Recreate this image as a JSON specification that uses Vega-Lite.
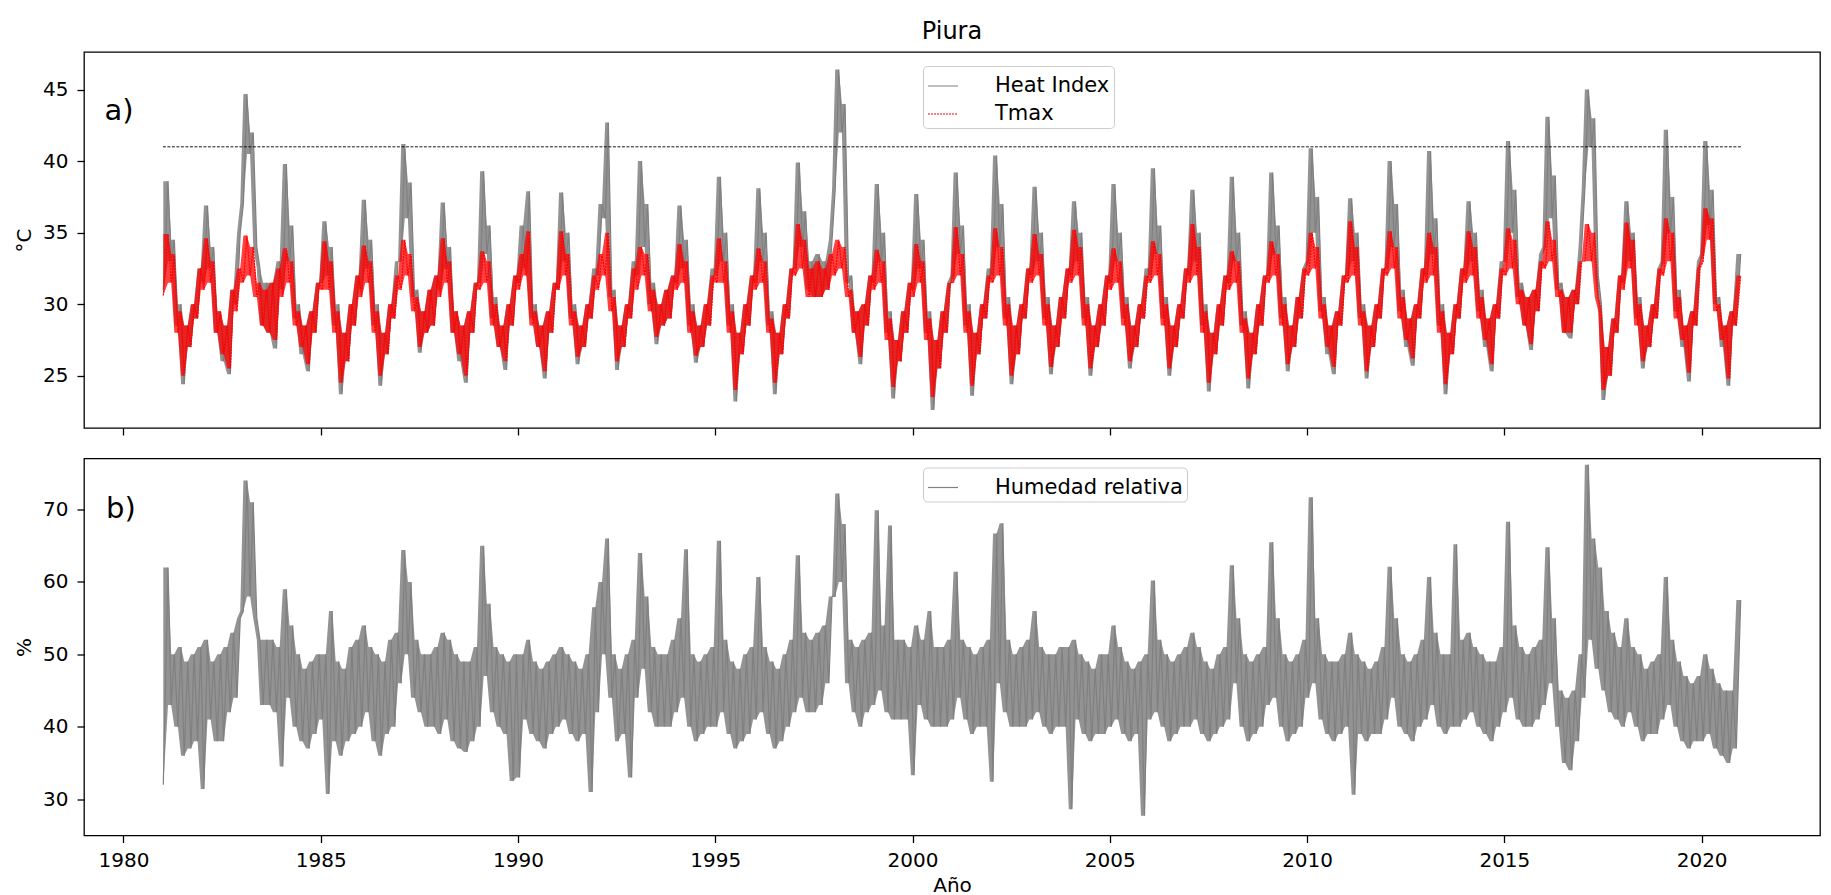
{
"$schema":"https://vega.github.io/schema/vega-lite/v6.json",
"background":"white",
"padding":{"left":13,"top":19,"right":8,"bottom":0},
"config":{"font":"DejaVu Sans","view":{"stroke":"black","strokeWidth":1.3},
"axis":{"domain":false,"grid":false,"tickColor":"black","tickWidth":1.3,"tickSize":7,"labelFontSize":20,"labelColor":"black","labelFont":"DejaVu Sans","titleFont":"DejaVu Sans","titleFontSize":20,"titleFontWeight":"normal","titleColor":"black","labelPadding":9,"titlePadding":8}},
"resolve":{"scale":{"x":"independent","y":"independent","color":"independent","strokeDash":"independent"},"legend":{"color":"independent","strokeDash":"independent"}},
"spacing":20.5,
"datasets":{"th":[{"x":1981,"x2":2021,"y":41}],"d":[
{"x":1981.01,"h":31,"t":30.6,"r":32},{"x":1981.13,"h":38.6,"t":34.9,"r":62},{"x":1981.21,"h":33,"t":31.5,"r":43},{"x":1981.29,"h":34.5,"t":33.5,"r":50},{"x":1981.38,"h":28.5,"t":28,"r":40},{"x":1981.46,"h":30,"t":29.5,"r":51},{"x":1981.54,"h":24.4,"t":25,"r":36},{"x":1981.63,"h":28.5,"t":28.5,"r":49},{"x":1981.71,"h":27,"t":27,"r":37},{"x":1981.79,"h":30,"t":30,"r":50},{"x":1981.88,"h":29,"t":29,"r":38},{"x":1981.96,"h":32.5,"t":32.5,"r":51},
{"x":1982.04,"h":31.5,"t":31,"r":31.4},{"x":1982.13,"h":36.9,"t":34.6,"r":52},{"x":1982.21,"h":32.5,"t":31.5,"r":41},{"x":1982.29,"h":34,"t":33,"r":49},{"x":1982.38,"h":28,"t":28,"r":38},{"x":1982.46,"h":29.5,"t":29.5,"r":50},{"x":1982.54,"h":26,"t":26.5,"r":38},{"x":1982.63,"h":28.5,"t":28.5,"r":51},{"x":1982.71,"h":25.1,"t":25.5,"r":42},{"x":1982.79,"h":31,"t":31,"r":53},{"x":1982.88,"h":30,"t":29.5,"r":44},{"x":1982.96,"h":35,"t":32.5,"r":55},
{"x":1983.04,"h":37,"t":31.5,"r":56},{"x":1983.13,"h":44.7,"t":34.8,"r":74},{"x":1983.21,"h":40.5,"t":32,"r":58},{"x":1983.29,"h":42,"t":34,"r":71},{"x":1983.38,"h":34,"t":30.5,"r":55},{"x":1983.46,"h":32.5,"t":31.5,"r":52},{"x":1983.54,"h":28.5,"t":28.5,"r":43},{"x":1983.63,"h":31.5,"t":31,"r":52},{"x":1983.71,"h":28,"t":28,"r":43},{"x":1983.79,"h":31.5,"t":31.5,"r":52},{"x":1983.88,"h":26.9,"t":27.5,"r":42},{"x":1983.96,"h":33,"t":32.5,"r":51},
{"x":1984.04,"h":31,"t":30.5,"r":34.5},{"x":1984.13,"h":39.8,"t":33.9,"r":59},{"x":1984.21,"h":33,"t":31.5,"r":44},{"x":1984.29,"h":35.5,"t":33,"r":54},{"x":1984.38,"h":29,"t":28.5,"r":40},{"x":1984.46,"h":30,"t":29.5,"r":50},{"x":1984.54,"h":26.5,"t":27,"r":38},{"x":1984.63,"h":28.5,"t":28.5,"r":48},{"x":1984.71,"h":25.3,"t":25.8,"r":37},{"x":1984.79,"h":29.5,"t":29.5,"r":49},{"x":1984.88,"h":28,"t":28,"r":39},{"x":1984.96,"h":31.5,"t":31.5,"r":50},
{"x":1985.04,"h":31.5,"t":31,"r":41},{"x":1985.13,"h":35.8,"t":34.4,"r":50},{"x":1985.21,"h":32,"t":31,"r":30.7},{"x":1985.29,"h":34,"t":33,"r":56},{"x":1985.38,"h":28.5,"t":28,"r":38},{"x":1985.46,"h":30,"t":29.5,"r":49},{"x":1985.54,"h":23.7,"t":24.5,"r":36},{"x":1985.63,"h":28,"t":28,"r":48},{"x":1985.71,"h":26,"t":26,"r":38},{"x":1985.79,"h":30,"t":30,"r":51},{"x":1985.88,"h":28.5,"t":28.5,"r":39},{"x":1985.96,"h":32,"t":32,"r":52},
{"x":1986.04,"h":31,"t":30.5,"r":40},{"x":1986.13,"h":37.3,"t":34.1,"r":54},{"x":1986.21,"h":32.5,"t":31.5,"r":42},{"x":1986.29,"h":34.5,"t":33,"r":51},{"x":1986.38,"h":28.5,"t":28,"r":38},{"x":1986.46,"h":30,"t":29.5,"r":50},{"x":1986.54,"h":24.3,"t":25,"r":36},{"x":1986.63,"h":28,"t":28,"r":49},{"x":1986.71,"h":26.5,"t":26.5,"r":39},{"x":1986.79,"h":30,"t":30,"r":52},{"x":1986.88,"h":29,"t":29,"r":40},{"x":1986.96,"h":33,"t":32,"r":53},
{"x":1987.04,"h":33,"t":31,"r":46},{"x":1987.13,"h":41.2,"t":34.5,"r":64.4},{"x":1987.21,"h":36,"t":32,"r":50},{"x":1987.29,"h":38.5,"t":33.5,"r":60},{"x":1987.38,"h":30.5,"t":29.5,"r":44},{"x":1987.46,"h":31,"t":30.5,"r":52},{"x":1987.54,"h":26.6,"t":27,"r":42},{"x":1987.63,"h":29.5,"t":29.5,"r":50},{"x":1987.71,"h":28,"t":28,"r":40},{"x":1987.79,"h":31,"t":31,"r":50},{"x":1987.88,"h":28.5,"t":28.5,"r":40},{"x":1987.96,"h":32,"t":32,"r":51},
{"x":1988.04,"h":31,"t":30.5,"r":39},{"x":1988.13,"h":37.1,"t":34.6,"r":53},{"x":1988.21,"h":32.5,"t":31.5,"r":41},{"x":1988.29,"h":34,"t":33,"r":52},{"x":1988.38,"h":28,"t":28,"r":38},{"x":1988.46,"h":29.5,"t":29.5,"r":50},{"x":1988.54,"h":26,"t":26.5,"r":37},{"x":1988.63,"h":28.5,"t":28.5,"r":49},{"x":1988.71,"h":24.5,"t":25,"r":36.5},{"x":1988.79,"h":29.5,"t":29.5,"r":49},{"x":1988.88,"h":28,"t":28,"r":38},{"x":1988.96,"h":31.5,"t":31.5,"r":51},
{"x":1989.04,"h":31.5,"t":31,"r":40},{"x":1989.13,"h":39.3,"t":33.7,"r":65},{"x":1989.21,"h":33.5,"t":31.5,"r":47},{"x":1989.29,"h":35.5,"t":33,"r":57},{"x":1989.38,"h":29,"t":28.5,"r":42},{"x":1989.46,"h":30.5,"t":30,"r":51},{"x":1989.54,"h":27,"t":27,"r":40},{"x":1989.63,"h":28.5,"t":28.5,"r":50},{"x":1989.71,"h":25.4,"t":26,"r":39},{"x":1989.79,"h":30,"t":30,"r":49},{"x":1989.88,"h":28.5,"t":28.5,"r":32.5},{"x":1989.96,"h":32,"t":32,"r":50},
{"x":1990.04,"h":31.5,"t":31,"r":33},{"x":1990.13,"h":35.5,"t":33.5,"r":50},{"x":1990.21,"h":32.5,"t":32,"r":41},{"x":1990.29,"h":37.9,"t":35.1,"r":52},{"x":1990.38,"h":29,"t":28.5,"r":39},{"x":1990.46,"h":30,"t":29.5,"r":49},{"x":1990.54,"h":27,"t":27,"r":38},{"x":1990.63,"h":28.5,"t":28.5,"r":48},{"x":1990.71,"h":24.8,"t":25.3,"r":37},{"x":1990.79,"h":29.5,"t":29.5,"r":49},{"x":1990.88,"h":28,"t":28,"r":39},{"x":1990.96,"h":31.5,"t":31.5,"r":50},
{"x":1991.04,"h":31,"t":31,"r":40},{"x":1991.13,"h":37.8,"t":35.1,"r":51},{"x":1991.21,"h":33,"t":32,"r":41},{"x":1991.29,"h":35,"t":33.5,"r":50},{"x":1991.38,"h":29,"t":28.5,"r":39},{"x":1991.46,"h":30,"t":29.5,"r":49},{"x":1991.54,"h":25.8,"t":26.3,"r":38},{"x":1991.63,"h":28.5,"t":28.5,"r":48},{"x":1991.71,"h":27,"t":27,"r":39},{"x":1991.79,"h":30,"t":30,"r":50},{"x":1991.88,"h":29,"t":29,"r":31},{"x":1991.96,"h":32.5,"t":32,"r":56.5},
{"x":1992.04,"h":32,"t":31,"r":42},{"x":1992.13,"h":37,"t":33.5,"r":60},{"x":1992.21,"h":36,"t":32,"r":50},{"x":1992.29,"h":42.7,"t":35,"r":66},{"x":1992.38,"h":30.5,"t":29.5,"r":44},{"x":1992.46,"h":31,"t":30.5,"r":50},{"x":1992.54,"h":25.4,"t":26,"r":38},{"x":1992.63,"h":28.5,"t":28.5,"r":48},{"x":1992.71,"h":27,"t":27,"r":39},{"x":1992.79,"h":30,"t":30,"r":50},{"x":1992.88,"h":29,"t":29,"r":33},{"x":1992.96,"h":33,"t":32.5,"r":52},
{"x":1993.04,"h":32,"t":31,"r":44},{"x":1993.13,"h":40,"t":34,"r":64},{"x":1993.21,"h":34,"t":32,"r":48},{"x":1993.29,"h":37,"t":33.5,"r":58},{"x":1993.38,"h":30,"t":29.5,"r":42},{"x":1993.46,"h":31.5,"t":31,"r":51},{"x":1993.54,"h":27.2,"t":27.7,"r":40},{"x":1993.63,"h":30,"t":30,"r":50},{"x":1993.71,"h":28.5,"t":28.5,"r":40},{"x":1993.79,"h":31,"t":31,"r":50},{"x":1993.88,"h":29,"t":29,"r":40},{"x":1993.96,"h":32,"t":32,"r":52},
{"x":1994.04,"h":31.5,"t":31,"r":42},{"x":1994.13,"h":36.9,"t":34.2,"r":55},{"x":1994.21,"h":32.5,"t":31.5,"r":44},{"x":1994.29,"h":34.5,"t":33,"r":64.5},{"x":1994.38,"h":28.5,"t":28,"r":40},{"x":1994.46,"h":30,"t":29.5,"r":50},{"x":1994.54,"h":25.9,"t":26.4,"r":38},{"x":1994.63,"h":28.5,"t":28.5,"r":49},{"x":1994.71,"h":27,"t":27,"r":39},{"x":1994.79,"h":30,"t":30,"r":50},{"x":1994.88,"h":28.5,"t":28.5,"r":40},{"x":1994.96,"h":32.5,"t":32,"r":51},
{"x":1995.04,"h":32,"t":31.5,"r":40},{"x":1995.13,"h":38.9,"t":34.6,"r":65.7},{"x":1995.21,"h":33,"t":31.5,"r":42},{"x":1995.29,"h":35,"t":33,"r":52},{"x":1995.38,"h":28.5,"t":28,"r":39},{"x":1995.46,"h":30,"t":29.5,"r":49},{"x":1995.54,"h":23.2,"t":24,"r":37},{"x":1995.63,"h":28,"t":28,"r":48},{"x":1995.71,"h":26.5,"t":26.5,"r":38},{"x":1995.79,"h":30,"t":30,"r":50},{"x":1995.88,"h":28.5,"t":28.5,"r":39},{"x":1995.96,"h":32,"t":32,"r":51},
{"x":1996.04,"h":31.5,"t":31,"r":41},{"x":1996.13,"h":38.1,"t":33.9,"r":60.7},{"x":1996.21,"h":33,"t":31.5,"r":42},{"x":1996.29,"h":35,"t":33,"r":51},{"x":1996.38,"h":28.5,"t":28,"r":39},{"x":1996.46,"h":29.5,"t":29,"r":49},{"x":1996.54,"h":23.7,"t":24.5,"r":37},{"x":1996.63,"h":28,"t":28,"r":48},{"x":1996.71,"h":26.5,"t":26.5,"r":38},{"x":1996.79,"h":30,"t":30,"r":50},{"x":1996.88,"h":29,"t":29,"r":40},{"x":1996.96,"h":32.5,"t":32.5,"r":52},
{"x":1997.04,"h":32.5,"t":32,"r":42},{"x":1997.13,"h":39.9,"t":35.6,"r":63.7},{"x":1997.21,"h":34,"t":32.5,"r":44},{"x":1997.29,"h":36.5,"t":34.5,"r":53},{"x":1997.38,"h":31,"t":30.5,"r":42},{"x":1997.46,"h":33,"t":32.5,"r":52},{"x":1997.54,"h":30.5,"t":30.5,"r":42},{"x":1997.63,"h":33.5,"t":33,"r":53},{"x":1997.71,"h":30.5,"t":30.5,"r":43},{"x":1997.79,"h":33,"t":32.5,"r":54},{"x":1997.88,"h":31,"t":31,"r":46},{"x":1997.96,"h":34.5,"t":33.5,"r":58},
{"x":1998.04,"h":38,"t":32,"r":58},{"x":1998.13,"h":46.4,"t":34.5,"r":72.2},{"x":1998.21,"h":42,"t":32.5,"r":60},{"x":1998.29,"h":44,"t":34,"r":68},{"x":1998.38,"h":31.5,"t":30.5,"r":46},{"x":1998.46,"h":32,"t":31,"r":52},{"x":1998.54,"h":28,"t":28,"r":42},{"x":1998.63,"h":29.5,"t":29.5,"r":51},{"x":1998.71,"h":25.8,"t":26.3,"r":40},{"x":1998.79,"h":30,"t":30,"r":52},{"x":1998.88,"h":28.5,"t":28.5,"r":42},{"x":1998.96,"h":32,"t":32,"r":53},
{"x":1999.04,"h":31.5,"t":31,"r":43},{"x":1999.13,"h":38.4,"t":33.8,"r":69.9},{"x":1999.21,"h":33,"t":31.5,"r":45},{"x":1999.29,"h":35,"t":33,"r":54},{"x":1999.38,"h":28,"t":27.5,"r":42},{"x":1999.46,"h":29.5,"t":29,"r":67.8},{"x":1999.54,"h":23.4,"t":24.2,"r":41},{"x":1999.63,"h":27.5,"t":27.5,"r":52},{"x":1999.71,"h":26,"t":26,"r":41},{"x":1999.79,"h":29.5,"t":29.5,"r":52},{"x":1999.88,"h":28,"t":28,"r":41},{"x":1999.96,"h":31.5,"t":31.5,"r":51},
{"x":2000.04,"h":31,"t":30.5,"r":33.3},{"x":2000.13,"h":37.7,"t":34.2,"r":54},{"x":2000.21,"h":32.5,"t":31.5,"r":43},{"x":2000.29,"h":34.5,"t":33,"r":52},{"x":2000.38,"h":28,"t":27.5,"r":41},{"x":2000.46,"h":29.5,"t":29,"r":56},{"x":2000.54,"h":22.6,"t":23.5,"r":40},{"x":2000.63,"h":27.5,"t":27.5,"r":51},{"x":2000.71,"h":25.5,"t":25.5,"r":40},{"x":2000.79,"h":29.5,"t":29.5,"r":51},{"x":2000.88,"h":28,"t":28,"r":40},{"x":2000.96,"h":31.5,"t":31.5,"r":52},
{"x":2001.04,"h":32,"t":31.5,"r":41},{"x":2001.13,"h":39.2,"t":35.4,"r":61.4},{"x":2001.21,"h":33.5,"t":32,"r":44},{"x":2001.29,"h":35.5,"t":33.5,"r":52},{"x":2001.38,"h":28.5,"t":28,"r":41},{"x":2001.46,"h":30,"t":29.5,"r":51},{"x":2001.54,"h":23.6,"t":24.3,"r":39},{"x":2001.63,"h":28,"t":28,"r":50},{"x":2001.71,"h":26.5,"t":26.5,"r":40},{"x":2001.79,"h":30,"t":30,"r":51},{"x":2001.88,"h":29,"t":29,"r":40},{"x":2001.96,"h":32.5,"t":32,"r":52},
{"x":2002.04,"h":32,"t":31.5,"r":32.4},{"x":2002.13,"h":40.4,"t":35.3,"r":66.7},{"x":2002.21,"h":34,"t":32,"r":46},{"x":2002.29,"h":37,"t":34,"r":68.1},{"x":2002.38,"h":29,"t":28.5,"r":42},{"x":2002.46,"h":30.5,"t":30,"r":52},{"x":2002.54,"h":24.4,"t":25,"r":40},{"x":2002.63,"h":28.5,"t":28.5,"r":50},{"x":2002.71,"h":26.5,"t":26.5,"r":40},{"x":2002.79,"h":30,"t":30,"r":51},{"x":2002.88,"h":29,"t":29,"r":40},{"x":2002.96,"h":32.5,"t":32.5,"r":52},
{"x":2003.04,"h":32,"t":31.5,"r":41},{"x":2003.13,"h":38.2,"t":34.9,"r":56},{"x":2003.21,"h":33,"t":32,"r":42},{"x":2003.29,"h":35,"t":33.5,"r":51},{"x":2003.38,"h":29,"t":28.5,"r":40},{"x":2003.46,"h":30.5,"t":30,"r":50},{"x":2003.54,"h":25.1,"t":25.6,"r":39},{"x":2003.63,"h":28.5,"t":28.5,"r":50},{"x":2003.71,"h":27,"t":27,"r":40},{"x":2003.79,"h":30.5,"t":30.5,"r":51},{"x":2003.88,"h":29,"t":29,"r":40},{"x":2003.96,"h":32.5,"t":32.5,"r":51},
{"x":2004.04,"h":32,"t":31.5,"r":28.6},{"x":2004.13,"h":37.2,"t":35.2,"r":52},{"x":2004.21,"h":33,"t":32,"r":41},{"x":2004.29,"h":35,"t":34,"r":50},{"x":2004.38,"h":29,"t":28.5,"r":39},{"x":2004.46,"h":30.5,"t":30,"r":49},{"x":2004.54,"h":25,"t":25.5,"r":38},{"x":2004.63,"h":28.5,"t":28.5,"r":48},{"x":2004.71,"h":27,"t":27,"r":39},{"x":2004.79,"h":30,"t":30,"r":50},{"x":2004.88,"h":28.5,"t":28.5,"r":39},{"x":2004.96,"h":32,"t":32,"r":50},
{"x":2005.04,"h":31.5,"t":31,"r":40},{"x":2005.13,"h":38.4,"t":33.9,"r":54},{"x":2005.21,"h":33,"t":31.5,"r":41},{"x":2005.29,"h":35,"t":33,"r":51},{"x":2005.38,"h":29,"t":28.5,"r":39},{"x":2005.46,"h":30.5,"t":30,"r":49},{"x":2005.54,"h":25.5,"t":26,"r":38},{"x":2005.63,"h":28.5,"t":28.5,"r":48},{"x":2005.71,"h":27,"t":27,"r":39},{"x":2005.79,"h":30,"t":30,"r":49},{"x":2005.88,"h":29,"t":29,"r":27.7},{"x":2005.96,"h":32.5,"t":32,"r":50},
{"x":2006.04,"h":32,"t":31.5,"r":41},{"x":2006.13,"h":39.5,"t":34.4,"r":60.2},{"x":2006.21,"h":33.5,"t":32,"r":42},{"x":2006.29,"h":35.5,"t":33.5,"r":52},{"x":2006.38,"h":29,"t":28.5,"r":40},{"x":2006.46,"h":30.5,"t":30,"r":50},{"x":2006.54,"h":25,"t":25.5,"r":38},{"x":2006.63,"h":28.5,"t":28.5,"r":49},{"x":2006.71,"h":27,"t":27,"r":39},{"x":2006.79,"h":30,"t":30,"r":50},{"x":2006.88,"h":29,"t":29,"r":40},{"x":2006.96,"h":32.5,"t":32.5,"r":51},
{"x":2007.04,"h":32,"t":31.5,"r":40},{"x":2007.13,"h":38,"t":35.6,"r":53},{"x":2007.21,"h":33,"t":32,"r":41},{"x":2007.29,"h":35,"t":34,"r":51},{"x":2007.38,"h":28.5,"t":28,"r":39},{"x":2007.46,"h":30,"t":29.5,"r":49},{"x":2007.54,"h":23.9,"t":24.5,"r":38},{"x":2007.63,"h":28,"t":28,"r":48},{"x":2007.71,"h":26.5,"t":26.5,"r":39},{"x":2007.79,"h":30,"t":30,"r":50},{"x":2007.88,"h":28.5,"t":28.5,"r":40},{"x":2007.96,"h":32,"t":32,"r":51},
{"x":2008.04,"h":31.5,"t":31,"r":41},{"x":2008.13,"h":38.9,"t":33.7,"r":62.3},{"x":2008.21,"h":33,"t":31.5,"r":46},{"x":2008.29,"h":35,"t":33,"r":55},{"x":2008.38,"h":28.5,"t":28,"r":40},{"x":2008.46,"h":29.5,"t":29,"r":50},{"x":2008.54,"h":24.1,"t":24.8,"r":38},{"x":2008.63,"h":28,"t":28,"r":49},{"x":2008.71,"h":26.5,"t":26.5,"r":39},{"x":2008.79,"h":30,"t":30,"r":50},{"x":2008.88,"h":28.5,"t":28.5,"r":40},{"x":2008.96,"h":32,"t":32,"r":51},
{"x":2009.04,"h":32,"t":31.5,"r":43},{"x":2009.13,"h":39.2,"t":34.4,"r":65.5},{"x":2009.21,"h":33.5,"t":32,"r":44},{"x":2009.29,"h":35.5,"t":33.5,"r":55},{"x":2009.38,"h":29,"t":28.5,"r":40},{"x":2009.46,"h":30.5,"t":30,"r":50},{"x":2009.54,"h":25.3,"t":25.8,"r":38},{"x":2009.63,"h":28.5,"t":28.5,"r":49},{"x":2009.71,"h":27,"t":27,"r":39},{"x":2009.79,"h":30.5,"t":30.5,"r":50},{"x":2009.88,"h":29,"t":29,"r":40},{"x":2009.96,"h":32.5,"t":32.5,"r":52},
{"x":2010.04,"h":33,"t":32,"r":44},{"x":2010.13,"h":40.9,"t":35,"r":71.7},{"x":2010.21,"h":35,"t":32.5,"r":46},{"x":2010.29,"h":37.5,"t":34,"r":55},{"x":2010.38,"h":29.5,"t":29,"r":41},{"x":2010.46,"h":30.5,"t":30,"r":50},{"x":2010.54,"h":26.5,"t":27,"r":39},{"x":2010.63,"h":28.5,"t":28.5,"r":49},{"x":2010.71,"h":25.1,"t":25.6,"r":38},{"x":2010.79,"h":29.5,"t":29.5,"r":49},{"x":2010.88,"h":28.5,"t":28.5,"r":39},{"x":2010.96,"h":32,"t":32,"r":50},
{"x":2011.04,"h":32,"t":31.5,"r":40},{"x":2011.13,"h":37.4,"t":35.8,"r":53},{"x":2011.21,"h":33,"t":32,"r":30.6},{"x":2011.29,"h":35,"t":34,"r":50},{"x":2011.38,"h":29,"t":28.5,"r":39},{"x":2011.46,"h":30,"t":29.5,"r":49},{"x":2011.54,"h":24.8,"t":25.3,"r":38},{"x":2011.63,"h":28.5,"t":28.5,"r":48},{"x":2011.71,"h":27,"t":27,"r":39},{"x":2011.79,"h":30,"t":30,"r":49},{"x":2011.88,"h":29,"t":29,"r":39},{"x":2011.96,"h":32.5,"t":32.5,"r":51},
{"x":2012.04,"h":32.5,"t":32,"r":41},{"x":2012.13,"h":40,"t":35.1,"r":62.1},{"x":2012.21,"h":34,"t":32.5,"r":44},{"x":2012.29,"h":37,"t":34,"r":55},{"x":2012.38,"h":29.5,"t":29,"r":40},{"x":2012.46,"h":31,"t":30.5,"r":50},{"x":2012.54,"h":27,"t":27.5,"r":39},{"x":2012.63,"h":29,"t":29,"r":49},{"x":2012.71,"h":25.7,"t":26.2,"r":38},{"x":2012.79,"h":30,"t":30,"r":50},{"x":2012.88,"h":29,"t":29,"r":40},{"x":2012.96,"h":32.5,"t":32.5,"r":52},
{"x":2013.04,"h":32,"t":31.5,"r":41},{"x":2013.13,"h":40.7,"t":35,"r":60.7},{"x":2013.21,"h":33.5,"t":32,"r":43},{"x":2013.29,"h":36,"t":34,"r":53},{"x":2013.38,"h":28.5,"t":28,"r":40},{"x":2013.46,"h":30,"t":29.5,"r":50},{"x":2013.54,"h":23.7,"t":24.4,"r":39},{"x":2013.63,"h":28,"t":28,"r":50},{"x":2013.71,"h":26.5,"t":26.5,"r":40},{"x":2013.79,"h":30,"t":30,"r":65.2},{"x":2013.88,"h":29,"t":29,"r":40},{"x":2013.96,"h":32.5,"t":32.5,"r":52},
{"x":2014.04,"h":32,"t":31.5,"r":41},{"x":2014.13,"h":37.2,"t":35.1,"r":53},{"x":2014.21,"h":33,"t":32,"r":42},{"x":2014.29,"h":35,"t":34,"r":51},{"x":2014.38,"h":29.5,"t":29,"r":40},{"x":2014.46,"h":31,"t":30.5,"r":50},{"x":2014.54,"h":27,"t":27.5,"r":39},{"x":2014.63,"h":29,"t":29,"r":49},{"x":2014.71,"h":25.3,"t":25.8,"r":38},{"x":2014.79,"h":30,"t":30,"r":49},{"x":2014.88,"h":29,"t":29,"r":40},{"x":2014.96,"h":33,"t":32.5,"r":51},
{"x":2015.04,"h":33,"t":32,"r":42},{"x":2015.13,"h":41.4,"t":35.3,"r":68.3},{"x":2015.21,"h":35,"t":32.5,"r":44},{"x":2015.29,"h":38,"t":34.5,"r":54},{"x":2015.38,"h":30.5,"t":30,"r":41},{"x":2015.46,"h":31.5,"t":31,"r":51},{"x":2015.54,"h":28.5,"t":28.5,"r":40},{"x":2015.63,"h":30.5,"t":30.5,"r":50},{"x":2015.71,"h":26.8,"t":27.2,"r":40},{"x":2015.79,"h":31,"t":31,"r":51},{"x":2015.88,"h":29.5,"t":29.5,"r":41},{"x":2015.96,"h":33.5,"t":33,"r":52},
{"x":2016.04,"h":34,"t":32.5,"r":43},{"x":2016.13,"h":43.1,"t":35.8,"r":64.8},{"x":2016.21,"h":36,"t":33,"r":46},{"x":2016.29,"h":39,"t":34.5,"r":55},{"x":2016.38,"h":31,"t":30.5,"r":40},{"x":2016.46,"h":31.5,"t":31,"r":45},{"x":2016.54,"h":28,"t":28,"r":35},{"x":2016.63,"h":30.5,"t":30.5,"r":44},{"x":2016.71,"h":27.6,"t":28,"r":34},{"x":2016.79,"h":31,"t":31,"r":45},{"x":2016.88,"h":30,"t":30,"r":38},{"x":2016.96,"h":34,"t":33,"r":50},
{"x":2017.04,"h":38,"t":33,"r":44},{"x":2017.13,"h":45,"t":35.6,"r":76.2},{"x":2017.21,"h":41,"t":33,"r":52},{"x":2017.29,"h":43,"t":35,"r":66},{"x":2017.38,"h":32,"t":30.5,"r":48},{"x":2017.46,"h":30,"t":29.5,"r":62},{"x":2017.54,"h":23.3,"t":24,"r":45},{"x":2017.63,"h":27,"t":27,"r":56},{"x":2017.71,"h":25,"t":25,"r":42},{"x":2017.79,"h":29,"t":29,"r":53},{"x":2017.88,"h":28,"t":28,"r":41},{"x":2017.96,"h":32,"t":32,"r":51},
{"x":2018.04,"h":31.5,"t":31,"r":40},{"x":2018.13,"h":37.2,"t":35.7,"r":55},{"x":2018.21,"h":33,"t":32.5,"r":42},{"x":2018.29,"h":35,"t":34.5,"r":51},{"x":2018.38,"h":29,"t":28.5,"r":40},{"x":2018.46,"h":30.5,"t":30,"r":50},{"x":2018.54,"h":25.5,"t":26,"r":38},{"x":2018.63,"h":28.5,"t":28.5,"r":48},{"x":2018.71,"h":27,"t":27,"r":39},{"x":2018.79,"h":30,"t":30,"r":49},{"x":2018.88,"h":29,"t":29,"r":39},{"x":2018.96,"h":32.5,"t":32.5,"r":50},
{"x":2019.04,"h":33,"t":32,"r":41},{"x":2019.13,"h":42.2,"t":36,"r":60.7},{"x":2019.21,"h":35,"t":33,"r":43},{"x":2019.29,"h":37.5,"t":35,"r":52},{"x":2019.38,"h":29.5,"t":29,"r":40},{"x":2019.46,"h":31,"t":30.5,"r":49},{"x":2019.54,"h":27,"t":27.5,"r":38},{"x":2019.63,"h":28.5,"t":28.5,"r":47},{"x":2019.71,"h":24.6,"t":25.2,"r":37},{"x":2019.79,"h":29.5,"t":29.5,"r":46},{"x":2019.88,"h":28.5,"t":28.5,"r":38},{"x":2019.96,"h":33,"t":32.5,"r":47},
{"x":2020.04,"h":33.5,"t":33,"r":38},{"x":2020.13,"h":41.4,"t":36.7,"r":50},{"x":2020.21,"h":35.5,"t":34.5,"r":39},{"x":2020.29,"h":38,"t":36,"r":48},{"x":2020.38,"h":30,"t":29.5,"r":37},{"x":2020.46,"h":30.5,"t":30,"r":46},{"x":2020.54,"h":27,"t":27.5,"r":36},{"x":2020.63,"h":28.5,"t":28.5,"r":45},{"x":2020.71,"h":24.3,"t":24.8,"r":35},{"x":2020.79,"h":29.5,"t":29.5,"r":45},{"x":2020.88,"h":28.5,"t":28.5,"r":37},{"x":2020.99,"h":33.5,"t":32,"r":57.5}
]},
"vconcat":[
{"title":{"text":"Piura","fontSize":24,"font":"DejaVu Sans","fontWeight":"normal","anchor":"middle","frame":"group","offset":8,"color":"black"},
"width":1736,"height":376,
"layer":[
{"data":{"name":"d"},
"transform":[{"fold":["h","t"],"as":["k","v"]},{"window":[{"op":"min","field":"v","as":"lo"},{"op":"max","field":"v","as":"hi"}],"frame":[0,1],"groupby":["k"],"sort":[{"field":"x","order":"ascending"}]}],
"encoding":{"x":{"field":"x","type":"quantitative","scale":{"domain":[1979,2023],"nice":false,"zero":false},"axis":{"values":[1980,1985,1990,1995,2000,2005,2010,2015,2020],"labels":false,"title":null}}},
"layer":[
{"transform":[{"filter":"datum.k == 'h'"}],"mark":{"type":"area","color":"#808080","opacity":0.85},
"encoding":{"y":{"field":"lo","type":"quantitative","scale":{"domain":[21.34,47.63],"nice":false,"zero":false},"axis":{"values":[25,30,35,40,45],"title":"°C"}},"y2":{"field":"hi"}}},
{"transform":[{"filter":"datum.k == 'h'"}],"mark":{"type":"line","strokeWidth":1.2,"strokeJoin":"bevel"},
"encoding":{"y":{"field":"v","type":"quantitative","axis":{"values":[25,30,35,40,45],"title":"°C"}},
"color":{"field":"k","type":"nominal","scale":{"domain":["h","t"],"range":["#808080","#ff0000"]},"legend":{"title":null,"orient":"none","legendX":839,"legendY":14,"labelFontSize":21,"labelFont":"DejaVu Sans","labelColor":"black","labelLimit":400,"symbolType":"stroke","symbolSize":900,"symbolStrokeWidth":1.2,"padding":4,"rowPadding":2,"labelOffset":36,"strokeColor":"#cccccc","fillColor":"white","cornerRadius":4,"labelExpr":"datum.label == 'h' ? 'Heat Index' : 'Tmax'"}},
"strokeDash":{"field":"k","type":"nominal","scale":{"domain":["h","t"],"range":[[1,0],[2,1]]},"legend":{"title":null,"orient":"none","legendX":839,"legendY":14,"labelFontSize":21,"labelFont":"DejaVu Sans","labelColor":"black","labelLimit":400,"symbolType":"stroke","symbolSize":900,"symbolStrokeWidth":1.2,"padding":4,"rowPadding":2,"labelOffset":36,"strokeColor":"#cccccc","fillColor":"white","cornerRadius":4,"labelExpr":"datum.label == 'h' ? 'Heat Index' : 'Tmax'"}}}},
{"transform":[{"filter":"datum.k == 't'"}],"mark":{"type":"area","color":"#ff0000","opacity":0.75},
"encoding":{"y":{"field":"lo","type":"quantitative","axis":{"values":[25,30,35,40,45],"title":"°C"}},"y2":{"field":"hi"}}},
{"transform":[{"filter":"datum.k == 't'"}],"mark":{"type":"line","strokeWidth":1.2,"strokeJoin":"bevel"},
"encoding":{"y":{"field":"v","type":"quantitative","axis":{"values":[25,30,35,40,45],"title":"°C"}},
"color":{"field":"k","type":"nominal","scale":{"domain":["h","t"],"range":["#808080","#ff0000"]},"legend":{"title":null,"orient":"none","legendX":839,"legendY":14,"labelFontSize":21,"labelFont":"DejaVu Sans","labelColor":"black","labelLimit":400,"symbolType":"stroke","symbolSize":900,"symbolStrokeWidth":1.2,"padding":4,"rowPadding":2,"labelOffset":36,"strokeColor":"#cccccc","fillColor":"white","cornerRadius":4,"labelExpr":"datum.label == 'h' ? 'Heat Index' : 'Tmax'"}},
"strokeDash":{"field":"k","type":"nominal","scale":{"domain":["h","t"],"range":[[1,0],[2,1]]},"legend":{"title":null,"orient":"none","legendX":839,"legendY":14,"labelFontSize":21,"labelFont":"DejaVu Sans","labelColor":"black","labelLimit":400,"symbolType":"stroke","symbolSize":900,"symbolStrokeWidth":1.2,"padding":4,"rowPadding":2,"labelOffset":36,"strokeColor":"#cccccc","fillColor":"white","cornerRadius":4,"labelExpr":"datum.label == 'h' ? 'Heat Index' : 'Tmax'"}}}}
]},
{"data":{"name":"th"},"mark":{"type":"rule","color":"black","strokeWidth":0.9,"strokeDash":[3,1.5]},
"encoding":{"x":{"field":"x","type":"quantitative"},"x2":{"field":"x2"},"y":{"field":"y","type":"quantitative"}}},
{"data":{"values":[{"x":1979.52,"y":42.9,"l":"a)"}]},"mark":{"type":"text","align":"left","baseline":"alphabetic","fontSize":29,"font":"DejaVu Sans","color":"black"},
"encoding":{"x":{"field":"x","type":"quantitative"},"y":{"field":"y","type":"quantitative"},"text":{"field":"l"}}}
]},
{"width":1736,"height":377,
"layer":[
{"data":{"name":"d"},
"transform":[{"window":[{"op":"min","field":"r","as":"lo"},{"op":"max","field":"r","as":"hi"}],"frame":[0,1],"sort":[{"field":"x","order":"ascending"}]}],
"encoding":{"x":{"field":"x","type":"quantitative","scale":{"domain":[1979,2023],"nice":false,"zero":false},"axis":{"values":[1980,1985,1990,1995,2000,2005,2010,2015,2020],"format":"d","title":"Año","labelPadding":8,"titlePadding":5}}},
"layer":[
{"mark":{"type":"area","color":"#808080","opacity":0.85},
"encoding":{"y":{"field":"lo","type":"quantitative","scale":{"domain":[24.98,77.05],"nice":false,"zero":false},"axis":{"values":[30,40,50,60,70],"title":"%"}},"y2":{"field":"hi"}}},
{"mark":{"type":"line","strokeWidth":1.2,"strokeJoin":"bevel"},
"encoding":{"y":{"field":"r","type":"quantitative","axis":{"values":[30,40,50,60,70],"title":"%"}},
"color":{"datum":"Humedad relativa","type":"nominal","scale":{"domain":["Humedad relativa"],"range":["#808080"]},"legend":{"title":null,"orient":"none","legendX":839,"legendY":9,"labelFontSize":21,"labelFont":"DejaVu Sans","labelColor":"black","labelLimit":400,"symbolType":"stroke","symbolSize":900,"symbolStrokeWidth":1.2,"padding":4,"labelOffset":36,"strokeColor":"#cccccc","fillColor":"white","cornerRadius":4}}}}
]},
{"data":{"values":[{"x":1979.56,"y":68.9,"l":"b)"}]},"mark":{"type":"text","align":"left","baseline":"alphabetic","fontSize":29,"font":"DejaVu Sans","color":"black"},
"encoding":{"x":{"field":"x","type":"quantitative"},"y":{"field":"y","type":"quantitative"},"text":{"field":"l"}}}
]}
]
}
